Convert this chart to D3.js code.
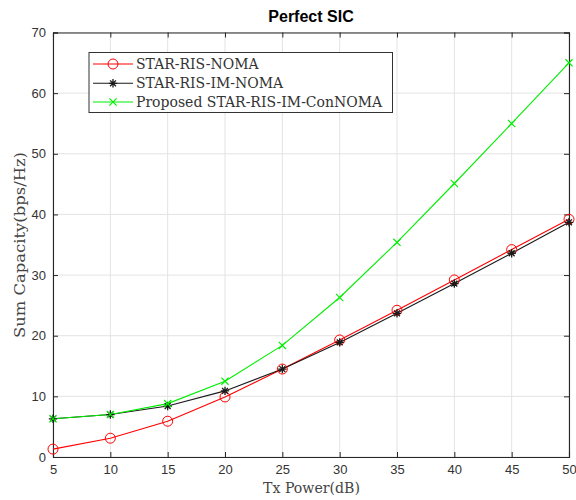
<!DOCTYPE html>
<html><head><meta charset="utf-8">
<script src="https://cdn.jsdelivr.net/npm/d3@7"></script>
<style>body{margin:0;background:#fff}svg{display:block}</style>
</head><body>
<svg id="c" width="576" height="500"></svg>
<script>
const txPower = [5,10,15,20,25,30,35,40,45,50];
const starRisNoma = [1.3,3.1,5.9,9.9,14.5,19.3,24.2,29.2,34.2,39.2];
const starRisImNoma = [6.3,7.0,8.4,10.9,14.5,18.9,23.7,28.6,33.6,38.7];
const proposed = [6.3,7.0,8.8,12.5,18.4,26.3,35.4,45.1,55.0,65.0];
const xTicks = [5,10,15,20,25,30,35,40,45,50];
const yTicks = [0,10,20,30,40,50,60,70];
const seriesNames = ["STAR-RIS-NOMA","STAR-RIS-IM-NOMA","Proposed STAR-RIS-IM-ConNOMA"];

const svg = d3.select("#c");
const L=53, R=569, T=32.5, B=457;
const x = d3.scaleLinear().domain([5,50]).range([L,R]);
const y = d3.scaleLinear().domain([0,70]).range([B,T]);
const axisCol = "#262626";

// grid
const g = svg.append("g");
g.selectAll(".gx").data(xTicks).join("line")
  .attr("x1",d=>x(d)).attr("x2",d=>x(d)).attr("y1",T).attr("y2",B)
  .attr("stroke","#e3e3e3").attr("stroke-width",1);
g.selectAll(".gy").data(yTicks).join("line")
  .attr("y1",d=>y(d)).attr("y2",d=>y(d)).attr("x1",L).attr("x2",R)
  .attr("stroke","#e3e3e3").attr("stroke-width",1);

// axes
const tickFont = "Liberation Sans, Arial, sans-serif";
const ax = svg.append("g").attr("transform",`translate(0,${B})`)
  .call(d3.axisBottom(x).tickValues(xTicks).tickSize(-5).tickPadding(8).tickFormat(d3.format("d")));
const ay = svg.append("g").attr("transform",`translate(${L},0)`)
  .call(d3.axisLeft(y).tickValues(yTicks).tickSize(-5).tickPadding(7).tickFormat(d3.format("d")));
const axT = svg.append("g").attr("transform",`translate(0,${T})`)
  .call(d3.axisTop(x).tickValues(xTicks).tickSize(-5).tickFormat(""));
const ayR = svg.append("g").attr("transform",`translate(${R},0)`)
  .call(d3.axisRight(y).tickValues(yTicks).tickSize(-5).tickFormat(""));
[ax,ay,axT,ayR].forEach(a=>{
  a.selectAll("path").attr("stroke",axisCol).attr("stroke-width",1.1);
  a.selectAll("line").attr("stroke",axisCol);
  a.selectAll("text").attr("fill","#333").style("font-family",tickFont).style("font-size","13px");
});

// lines
const line = (arr)=>d3.line().x((d,i)=>x(txPower[i])).y(d=>y(d))(arr);
const colors = ["#ff0000","#1a1a1a","#00ee00"];
const datasets = [starRisNoma, starRisImNoma, proposed];
datasets.forEach((arr,k)=>{
  svg.append("path").attr("d",line(arr)).attr("fill","none")
    .attr("stroke",colors[k]).attr("stroke-width",1.1);
});

function marker(sel, k, cx, cy){
  if(k===0){
    sel.append("circle").attr("cx",cx).attr("cy",cy).attr("r",5)
      .attr("fill","none").attr("stroke",colors[0]).attr("stroke-width",1);
  } else if(k===1){
    const s=4.2;
    const p = `M${cx-s},${cy}L${cx+s},${cy}M${cx},${cy-s}L${cx},${cy+s}`+
      `M${cx-s*0.7},${cy-s*0.7}L${cx+s*0.7},${cy+s*0.7}M${cx-s*0.7},${cy+s*0.7}L${cx+s*0.7},${cy-s*0.7}`;
    sel.append("path").attr("d",p).attr("stroke",colors[1]).attr("stroke-width",1.3).attr("fill","none");
  } else {
    const s=3.6;
    const p = `M${cx-s},${cy-s}L${cx+s},${cy+s}M${cx-s},${cy+s}L${cx+s},${cy-s}`;
    sel.append("path").attr("d",p).attr("stroke",colors[2]).attr("stroke-width",1.2).attr("fill","none");
  }
}
datasets.forEach((arr,k)=>{
  const mg = svg.append("g");
  arr.forEach((v,i)=>marker(mg,k,x(txPower[i]),y(v)));
});

// title
svg.append("text").attr("x",(L+R)/2).attr("y",22).attr("text-anchor","middle")
  .style("font-family",tickFont).style("font-weight","bold").style("font-size","16px")
  .attr("fill","#000").text("Perfect SIC");

// axis labels
const serif = "DejaVu Serif, Liberation Serif, serif";
svg.append("text").attr("x",311.5).attr("y",493).attr("text-anchor","middle")
  .style("font-family",serif).style("font-size","14.5px").attr("fill","#444")
  .attr("textLength",97).attr("lengthAdjust","spacingAndGlyphs")
  .text("Tx Power(dB)");
svg.append("text").attr("transform",`translate(25,245) rotate(-90)`).attr("text-anchor","middle")
  .style("font-family",serif).style("font-size","15px").attr("fill","#444")
  .attr("textLength",186).attr("lengthAdjust","spacingAndGlyphs")
  .text("Sum Capacity(bps/Hz)");

// legend
const lg = svg.append("g");
lg.append("rect").attr("x",89).attr("y",52.5).attr("width",303.5).attr("height",60)
  .attr("fill","#fff").attr("stroke","#333").attr("stroke-width",1);
const rowsY=[64,83.3,102];
const legW=[148,167,251];
seriesNames.forEach((n,k)=>{
  lg.append("line").attr("x1",93).attr("x2",133).attr("y1",rowsY[k]).attr("y2",rowsY[k])
    .attr("stroke",colors[k]).attr("stroke-width",1.1);
  marker(lg,k,113,rowsY[k]);
  lg.append("text").attr("x",136).attr("y",rowsY[k]+5).style("font-family",serif)
    .style("font-size","14px").attr("fill","#333").text(n);
});
</script>
</body></html>
